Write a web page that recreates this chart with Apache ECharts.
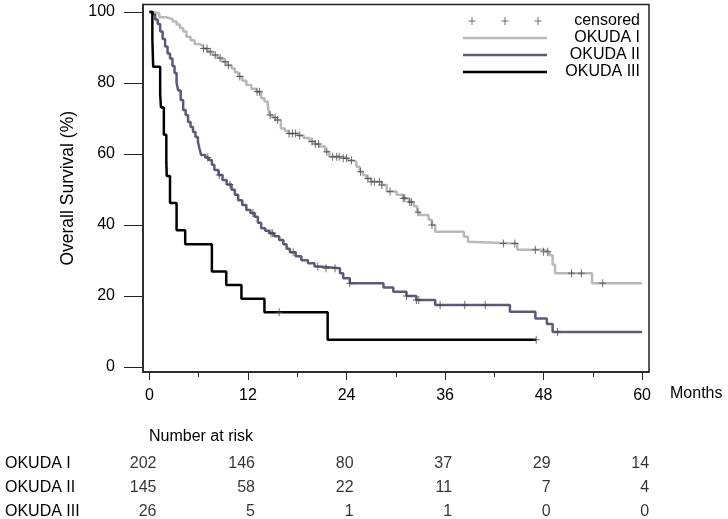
<!DOCTYPE html>
<html><head><meta charset="utf-8">
<script src="https://cdn.jsdelivr.net/npm/echarts@6/dist/echarts.min.js"></script>
<style>html,body{margin:0;padding:0;background:#fff}#c{width:728px;height:519px}</style>
</head><body><div id="c"></div>
<script>
const groupNames = ['OKUDA I', 'OKUDA II', 'OKUDA III'];
const xTickValues = [0, 12, 24, 36, 48, 60];
const xMinorTickValues = [6, 18, 30, 42, 54];
const yTickValues = [0, 20, 40, 60, 80, 100];
const riskTimes = [0, 12, 24, 36, 48, 60];
const riskI = [202, 146, 80, 37, 29, 14];
const riskII = [145, 58, 22, 11, 7, 4];
const riskIII = [26, 5, 1, 1, 0, 0];

// Kaplan-Meier steps: [month, survival %]
const survI = [[0,100],[0.6,99.5],[1.2,98.5],[2.0,98.0],[2.8,97.3],[3.3,96.5],[3.7,95.5],[4.1,94.5],[4.5,93.0],[5.0,92.0],[5.5,91.0],[6.0,90.5],[6.5,89.7],[7.1,88.8],[7.7,87.9],[8.3,87.0],[8.9,86.0],[9.4,85.0],[10.0,84.1],[10.4,83.0],[10.8,81.8],[11.3,80.6],[11.8,79.4],[12.4,78.4],[13.0,77.5],[13.6,75.7],[14.0,74.8],[14.4,73.8],[14.6,71.0],[15.0,70.3],[15.4,69.6],[16.0,67.2],[16.5,66.5],[16.9,65.8],[18.1,65.2],[18.8,64.5],[19.5,63.5],[20.1,62.8],[20.7,62.1],[21.4,60.6],[21.9,59.2],[23.4,58.8],[24.2,58.2],[24.8,57.8],[25.2,56.4],[25.6,55.0],[26.0,54.0],[26.4,53.1],[27.0,52.2],[28.3,51.3],[28.9,49.4],[30.1,48.5],[30.9,47.5],[31.6,46.5],[32.2,45.3],[32.6,43.6],[32.9,42.8],[34.0,41.5],[34.4,40.0],[34.8,38.1],[38.3,36.7],[38.8,35.3],[39.0,34.8],[44.8,33.0],[48.0,32.5],[48.7,31.5],[49.1,28.8],[49.4,26.4],[53.9,23.6],[60,23.6]];
const survII = [[0,100],[0.4,99.3],[0.7,97.9],[1.0,96.6],[1.3,94.5],[1.6,92.4],[1.9,90.3],[2.2,88.3],[2.5,86.9],[2.8,84.8],[3.05,82.8],[3.3,80.0],[3.5,77.9],[3.8,75.2],[4.1,72.4],[4.4,71.0],[4.7,69.0],[5.0,67.6],[5.3,66.2],[5.6,64.8],[5.9,63.4],[6.1,61.4],[6.3,59.7],[6.8,59.0],[7.2,58.3],[7.6,57.0],[7.9,55.5],[8.4,54.1],[8.9,52.7],[9.4,51.4],[10.0,49.9],[10.4,48.5],[10.8,47.0],[11.3,45.6],[11.8,44.2],[12.3,43.4],[12.8,42.3],[13.2,40.6],[13.6,39.1],[14.1,38.4],[14.6,37.7],[15.2,36.8],[15.8,35.8],[16.3,34.6],[16.7,33.3],[17.1,32.3],[17.8,31.2],[18.5,30.1],[19.3,29.2],[20.1,28.3],[20.6,27.8],[23.2,26.4],[23.6,25.0],[24.4,23.6],[28.5,22.4],[29.7,21.2],[31.3,20.0],[32.5,18.9],[34.8,17.5],[43.9,15.6],[47.0,13.7],[48.4,12.1],[49.1,9.9],[60,9.9]];
const survIII = [[0,100],[0.35,92.3],[0.45,84.6],[1.3,76.9],[1.4,73.1],[1.75,65.4],[2.05,57.7],[2.1,53.8],[2.5,46.2],[3.3,38.5],[4.35,34.6],[7.6,26.9],[9.35,23.1],[11.2,19.2],[14.0,15.4],[21.7,7.7],[47.1,7.7]];

const censorI = [6.6,7.0,7.4,8.0,8.6,9.2,9.6,11.0,13.1,13.4,14.7,15.3,15.6,17.0,17.4,17.8,18.3,19.8,20.2,20.6,21.6,22.3,22.8,23.1,23.6,24.0,24.6,25.7,26.6,27.0,27.4,28.0,28.3,29.3,30.9,31.1,31.7,31.9,32.7,34.4,43.1,44.5,47.0,48.0,48.5,51.4,52.6,55.2];
const censorII = [7.1,8.5,9.8,12.6,14.8,15.0,17.5,20.5,21.5,22.6,24.4,31.3,32.5,32.8,35.4,38.4,40.9,49.7];
const censorIII = [15.8,47.1];

const FONT = "'Liberation Sans', Arial, sans-serif";
const colors = ['#b9b9b9', '#5b5b77', '#000000'];
const censorColor = '#4a4a4a';

function survAt(curve, t) {
  let s = curve[0][1];
  for (const p of curve) { if (p[0] <= t) s = p[1]; else break; }
  return s;
}
const curves = [survI, survII, survIII];
const censors = [censorI, censorII, censorIII];
const censorData = [];
censors.forEach((arr, i) => arr.forEach(t => censorData.push([t, survAt(curves[i], t)])));

const riskRows = [riskI, riskII, riskIII];
const riskData = [];
riskRows.forEach((row, i) => row.forEach((n, j) => riskData.push([riskTimes[j], groupNames[i], n])));

const plusPath = 'path://M-0.5,-4H0.5V-0.5H3.5V0.5H0.5V4H-0.5V0.5H-3.5V-0.5H-0.5Z';
function plus(cx) { return `M${cx-0.5},0H${cx+0.5}V3.5H${cx+3.5}V4.5H${cx+0.5}V8H${cx-0.5}V4.5H${cx-3.5}V3.5H${cx-0.5}Z`; }
const legendCensorIcon = 'path://' + plus(9) + plus(42) + plus(75);
const legendLineIcon = 'path://M0,0H84V2.7H0Z';

const XMIN = -0.79, XMAX = 60.84, YMIN = -1.4, YMAX = 102.1;

const chart = echarts.init(document.getElementById('c'), null, {renderer: 'canvas'});
chart.setOption({
  backgroundColor: '#fff',
  animation: false,
  textStyle: {fontFamily: FONT},
  title: {text: 'Number at risk', left: 149, top: 429, textStyle: {fontFamily: FONT, fontSize: 16, fontWeight: 'normal', color: '#000'}, padding: 0},
  legend: {
    left: 463, top: 13, orient: 'vertical', itemWidth: 84, itemHeight: 8, itemGap: 1, padding: 0,
    data: [{name: 'censored', icon: legendCensorIcon}, {name: 'OKUDA I', icon: legendLineIcon}, {name: 'OKUDA II', icon: legendLineIcon}, {name: 'OKUDA III', icon: legendLineIcon}],
    formatter: n => '{a|' + n + '}',
    textStyle: {fontFamily: FONT, fontSize: 16, lineHeight: 16, color: '#000', rich: {a: {width: 88, align: 'right', fontSize: 16, lineHeight: 16, fontFamily: FONT, color: '#000'}}},
    selectedMode: false
  },
  grid: [
    {left: 143, top: 4.5, width: 506, height: 367.5, show: true, borderColor: '#222', borderWidth: 1.5, backgroundColor: 'transparent', outerBoundsMode: 'none'},
    {left: 143, top: 451.5, width: 506, height: 72.6, outerBoundsMode: 'none'}
  ],
  xAxis: [
    {type: 'value', gridIndex: 0, min: XMIN, max: XMAX,
     axisLine: {show: true, onZero: false, lineStyle: {color: '#222', width: 1.5}},
     axisTick: {show: true, customValues: xTickValues, length: 8, lineStyle: {color: '#222', width: 1}},
     axisLabel: {show: true, customValues: xTickValues, margin: 16, fontSize: 16, color: '#000', fontFamily: FONT},
     splitLine: {show: false}},
    {type: 'value', gridIndex: 0, min: XMIN, max: XMAX, position: 'bottom',
     axisLine: {show: false, onZero: false},
     axisTick: {show: true, customValues: xMinorTickValues, length: 5, lineStyle: {color: '#222', width: 1}},
     axisLabel: {show: false}, splitLine: {show: false}},
    {type: 'value', gridIndex: 1, min: XMIN, max: XMAX, show: false}
  ],
  yAxis: [
    {type: 'value', gridIndex: 0, min: YMIN, max: YMAX,
     name: 'Overall Survival (%)', nameLocation: 'middle', nameGap: 64,
     nameTextStyle: {fontSize: 17.5, color: '#000', fontFamily: FONT},
     axisLine: {show: true, onZero: false, lineStyle: {color: '#222', width: 1.5}},
     axisTick: {show: true, customValues: yTickValues, length: 19, lineStyle: {color: '#222', width: 1}},
     axisLabel: {show: true, customValues: yTickValues, margin: 28, fontSize: 16, color: '#000', fontFamily: FONT},
     splitLine: {show: false}},
    {type: 'category', gridIndex: 1, data: groupNames, inverse: true,
     axisLine: {show: false}, axisTick: {show: false},
     axisLabel: {align: 'left', margin: 138, fontSize: 16, color: '#000', fontFamily: FONT}}
  ],
  graphic: [{type: 'text', left: 670, top: 386, style: {text: 'Months', fontSize: 16, fontFamily: FONT, fill: '#000'}}],
  series: [
    {name: 'OKUDA I', type: 'line', step: 'end', data: survI, symbol: 'none', xAxisIndex: 0, yAxisIndex: 0, lineStyle: {color: colors[0], width: 2.5}, itemStyle: {color: colors[0]}, z: 3},
    {name: 'OKUDA II', type: 'line', step: 'end', data: survII, symbol: 'none', xAxisIndex: 0, yAxisIndex: 0, lineStyle: {color: colors[1], width: 2.5}, itemStyle: {color: colors[1]}, z: 4},
    {name: 'OKUDA III', type: 'line', step: 'end', data: survIII, symbol: 'none', xAxisIndex: 0, yAxisIndex: 0, lineStyle: {color: colors[2], width: 2.5}, itemStyle: {color: colors[2]}, z: 5},
    {name: 'censored', type: 'scatter', data: censorData, symbol: plusPath, symbolSize: [7, 8], xAxisIndex: 0, yAxisIndex: 0, itemStyle: {color: censorColor}, z: 6},
    {name: 'risk', type: 'scatter', data: riskData, xAxisIndex: 2, yAxisIndex: 1, symbolSize: 1, itemStyle: {color: 'transparent'},
     label: {show: true, position: 'inside', align: 'right', verticalAlign: 'middle', offset: [7, 0], formatter: p => String(p.value[2]), fontSize: 16, color: '#000', fontFamily: FONT}}
  ]
});
</script></body></html>
